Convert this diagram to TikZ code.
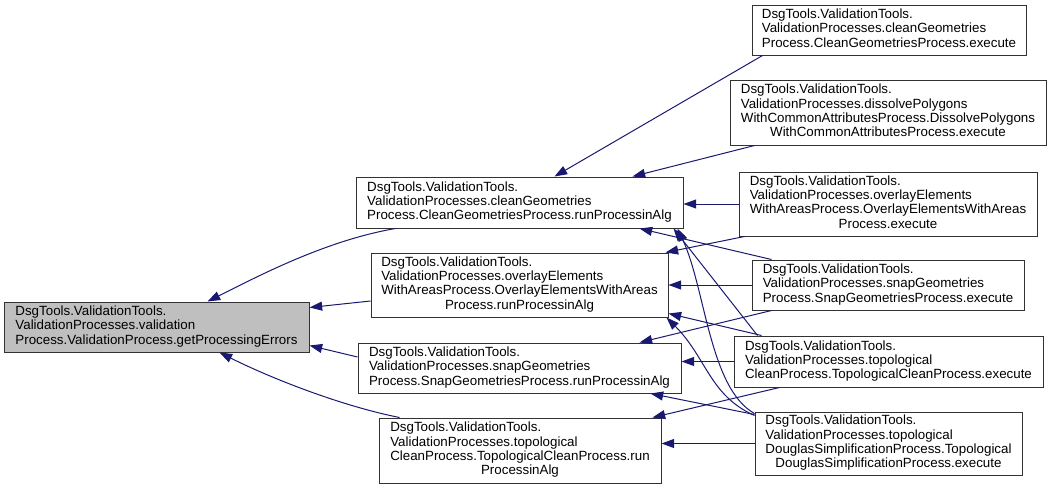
\documentclass[tikz,border=0pt]{standalone}
\usepackage{fontspec}
\setmainfont{Liberation Sans}
\usetikzlibrary{arrows.meta,calc}
\definecolor{CGblue}{RGB}{25,25,112}
\definecolor{CGgray}{RGB}{191,191,191}
\definecolor{CGline}{RGB}{50,50,50}
\newcommand{\fnlines}[1]{\begin{tabular}{@{}l@{}}#1\end{tabular}}
\newcommand{\lastln}[1]{\multicolumn{1}{@{}c@{}}{#1}}
\tikzset{
  fn/.style={draw=CGline,line width=0.75pt,fill=white,inner sep=2pt,
             font=\fontsize{10}{10.7}\selectfont,minimum height=37.5pt},
  fntall/.style={fn,minimum height=48pt},
  fncur/.style={fn,fill=CGgray},
  call/.style={-{Triangle[length=9.5pt,width=6.75pt]},line width=0.75pt,draw=CGblue}
}

\begin{document}
\begin{tikzpicture}[x=0.75pt,y=-0.75pt]
  \useasboundingbox (0,0) rectangle (1052,489);
  % function being documented
  \node[fncur,minimum width=228.75pt] (get) at (156.5,327) {\fnlines{DsgTools.ValidationTools.\\ValidationProcesses.validation\\Process.ValidationProcess.getProcessingErrors}};
  % runProcessinAlg callers
  \node[fn,minimum width=245.25pt,minimum height=38.25pt] (clean) at (519.5,202.5) {\fnlines{DsgTools.ValidationTools.\\ValidationProcesses.cleanGeometries\\Process.CleanGeometriesProcess.runProcessinAlg}};
  \node[fntall,minimum width=222.75pt] (overlay) at (519.5,285) {\fnlines{DsgTools.ValidationTools.\\ValidationProcesses.overlayElements\\WithAreasProcess.OverlayElementsWithAreas\\\lastln{Process.runProcessinAlg}}};
  \node[fn,minimum width=242.25pt] (snap) at (519.5,368) {\fnlines{DsgTools.ValidationTools.\\ValidationProcesses.snapGeometries\\Process.SnapGeometriesProcess.runProcessinAlg}};
  \node[fntall,minimum width=211.5pt,minimum height=48.75pt] (topo) at (520,450.5) {\fnlines{DsgTools.ValidationTools.\\ValidationProcesses.topological\\CleanProcess.TopologicalCleanProcess.run\\\lastln{ProcessinAlg}}};
  % execute callers
  \node[fn,minimum width=205.5pt] (cleanex) at (889,30) {\fnlines{DsgTools.ValidationTools.\\ValidationProcesses.cleanGeometries\\Process.CleanGeometriesProcess.execute}};
  \node[fntall,minimum width=237pt,minimum height=48.75pt] (dissex) at (888,112.5) {\fnlines{DsgTools.ValidationTools.\\ValidationProcesses.dissolvePolygons\\WithCommonAttributesProcess.DissolvePolygons\\\lastln{WithCommonAttributesProcess.execute}}};
  \node[fntall,minimum width=223.5pt] (overlayex) at (888,204) {\fnlines{DsgTools.ValidationTools.\\ValidationProcesses.overlayElements\\WithAreasProcess.OverlayElementsWithAreas\\\lastln{Process.execute}}};
  \node[fn,minimum width=204pt] (snapex) at (888,285) {\fnlines{DsgTools.ValidationTools.\\ValidationProcesses.snapGeometries\\Process.SnapGeometriesProcess.execute}};
  \node[fn,minimum width=231.75pt,minimum height=38.25pt] (topoex) at (888.5,361.5) {\fnlines{DsgTools.ValidationTools.\\ValidationProcesses.topological\\CleanProcess.TopologicalCleanProcess.execute}};
  \node[fntall,minimum width=200.25pt,minimum height=47.25pt] (douglasex) at (888.5,443.5) {\fnlines{DsgTools.ValidationTools.\\ValidationProcesses.topological\\DouglasSimplificationProcess.Topological\\\lastln{DouglasSimplificationProcess.execute}}};
  % calls into getProcessingErrors
  \draw[call] ($(clean.south west)+(40,0)$) .. controls +(-70,12) and +(50,-25) .. ($(get.north west)+(204,0)$);
  \draw[call] ($(overlay.west)+(0,16)$) -- ($(get.north east)+(0,6)$);
  \draw[call] ($(snap.west)+(0,-11)$) -- ($(get.south east)+(0,-7)$);
  \draw[call] ($(topo.north west)+(21,0)$) .. controls +(-60,-12) and +(50,25) .. ($(get.south west)+(216,0)$);
  % calls into cleanGeometries
  \draw[call] ($(cleanex.south west)+(11,0)$) -- ($(clean.north west)+(199,0)$);
  \draw[call] ($(dissex.south west)+(25,0)$) -- ($(clean.north west)+(277,0)$);
  \draw[call] (overlayex.west) -- (overlayex.west -| clean.east);
  \draw[call] ($(snapex.north west)+(20,0)$) -- ($(clean.south west)+(284,0)$);
  \draw[call] ($(topoex.north west)+(24,0)$) -- ($(clean.south east)+(-10,0)$);
  \draw[call] ($(douglasex.north west)+(0,2)$) .. controls +(-45,-25) and +(28,60) .. ($(clean.south east)+(-6,0)$);
  % calls into overlayElements
  \draw[call] ($(overlayex.south west)+(6,0)$) -- ($(overlay.north east)+(-3,0)$);
  \draw[call] (snapex.west) -- (snapex.west -| overlay.east);
  \draw[call] ($(topoex.north west)+(28,0)$) -- ($(overlay.south east)+(0,-4)$);
  \draw[call] ($(douglasex.north west)+(0,4)$) .. controls +(-45,-20) and +(40,40) .. ($(overlay.south east)+(-2,0)$);
  % calls into snapGeometries
  \draw[call] ($(snapex.south west)+(20,0)$) -- ($(snap.north west)+(282,0)$);
  \draw[call] (topoex.west) -- (topoex.west -| snap.east);
  \draw[call] ($(douglasex.north west)+(0,3)$) -- ($(snap.south west)+(293,0)$);
  % calls into topologicalClean
  \draw[call] ($(topoex.south west)+(46,0)$) -- ($(topo.north east)+(-9,0)$);
  \draw[call] (douglasex.west) -- (douglasex.west -| topo.east);
\end{tikzpicture}
\end{document}
